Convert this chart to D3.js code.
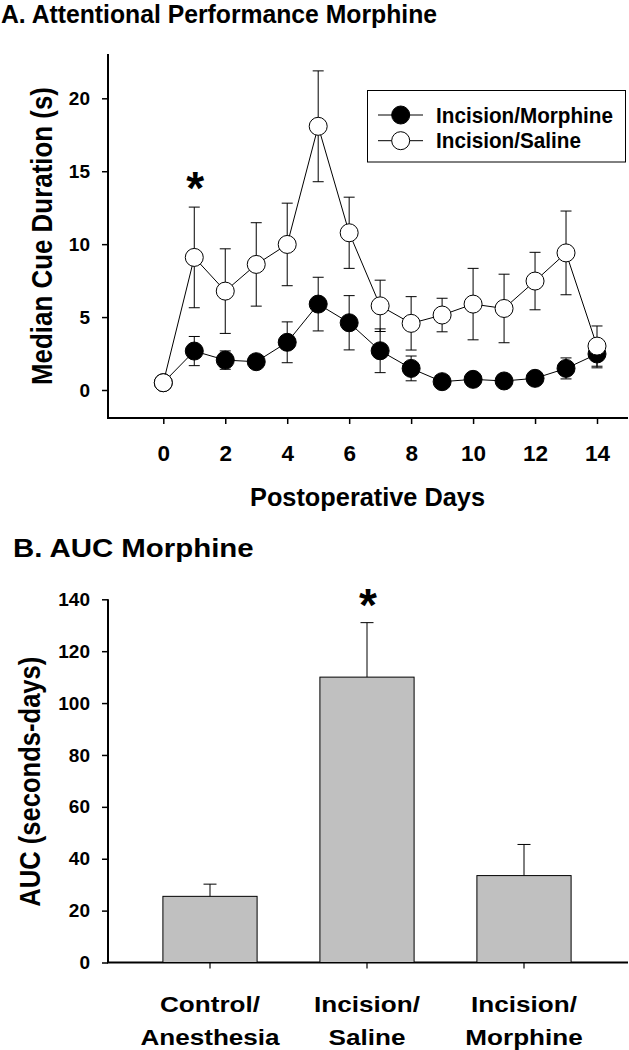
<!DOCTYPE html>
<html><head><meta charset="utf-8">
<script src="https://cdn.jsdelivr.net/npm/d3@7"></script>
<style>
body{margin:0;background:#fff}
svg{display:block}
text{font-family:"Liberation Sans",Arial,sans-serif;font-weight:bold;fill:#000}
</style>
</head><body>
<svg id="c" width="629" height="1050"></svg>
<script>
// ---------- Panel A data ----------
const days = [0,1,2,3,4,5,6,7,8,9,10,11,12,13,14];
const morphineMean = [0.5,2.67,2.05,1.94,3.27,5.89,4.61,2.69,1.48,0.57,0.73,0.62,0.80,1.48,2.47];
const morphineSem  = [0,1.0,0.63,0.4,1.4,1.84,1.86,1.5,0.85,0.2,0.25,0.2,0.3,0.72,0.95];
const salineMean   = [0.5,9.09,6.78,8.61,9.98,18.08,10.78,5.77,4.57,5.14,5.89,5.59,7.47,9.40,3.01];
const salineSem    = [0,3.45,2.9,2.86,2.83,3.8,2.44,1.76,1.83,1.15,2.45,2.35,1.97,2.87,1.38];
const xTicksA = [0,2,4,6,8,10,12,14];
const yTicksA = [0,5,10,15,20];
const seriesNames = ["Incision/Morphine","Incision/Saline"];
const sigDayA = 1;

// ---------- Panel B data ----------
const groups = ["Control/Anesthesia","Incision/Saline","Incision/Morphine"];
const groupLabels = [["Control/","Anesthesia"],["Incision/","Saline"],["Incision/","Morphine"]];
const aucMean = [25.5,110.0,33.5];
const aucSem  = [4.7,21.0,12.0];
const yTicksB = [0,20,40,60,80,100,120,140];
const sigGroupB = "Incision/Saline";

const svg = d3.select("#c");

function label(g, str, x, y, size, opts={}) {
  const sx = opts.sx || 1;
  const rot = opts.rot || 0;
  const t = g.append("text")
    .attr("transform", `translate(${x},${y})` + (rot ? ` rotate(${rot})` : "") + (sx !== 1 ? ` scale(${sx},1)` : ""))
    .attr("text-anchor", opts.anchor || "start")
    .style("font-size", size + "px")
    .text(str);
  if (opts.len) t.attr("textLength", opts.len).attr("lengthAdjust", "spacingAndGlyphs");
  return t;
}

// ================= Panel A =================
const gA = svg.append("g");
label(gA, "A. Attentional Performance Morphine", 1, 23, 26.5, {len: 436});

const xA = d3.scaleLinear().domain([0,14]).range([163.3,597]);
const yA = d3.scaleLinear().domain([0,20]).range([390,98.3]);
const axisLeftX = 108, axisBottomY = 418;

// y axis
const gyA = gA.append("g").attr("transform", `translate(${axisLeftX},0)`)
  .call(d3.axisLeft(yA).tickValues(yTicksA).tickSize(6).tickPadding(12));
gyA.select(".domain").remove();
gyA.selectAll(".tick line").attr("stroke","#000").attr("stroke-width",1.5);
gyA.selectAll(".tick text").style("font-size","19px").attr("fill","#000");
gA.append("line").attr("x1",axisLeftX).attr("x2",axisLeftX).attr("y1",54).attr("y2",axisBottomY+1)
  .attr("stroke","#000").attr("stroke-width",2);

// x axis
const gxA = gA.append("g").attr("transform", `translate(0,${axisBottomY})`)
  .call(d3.axisBottom(xA).tickValues(xTicksA).tickSize(6));
gxA.select(".domain").remove();
gxA.selectAll(".tick line").attr("stroke","#000").attr("stroke-width",1.5);
gxA.selectAll(".tick text").style("font-size","22.5px").attr("y",43).attr("dy",null).attr("fill","#000");
gA.append("line").attr("x1",axisLeftX-1).attr("x2",628).attr("y1",axisBottomY).attr("y2",axisBottomY)
  .attr("stroke","#000").attr("stroke-width",2);

label(gA, "Postoperative Days", 367.5, 505.5, 26.5, {anchor:"middle", len:235});
label(gA, "Median Cue Duration (s)", 52, 236, 29, {anchor:"middle", rot:-90, len:298});

const seriesA = [
  {name: seriesNames[0], mean: morphineMean, sem: morphineSem, fill: "#000"},
  {name: seriesNames[1], mean: salineMean, sem: salineSem, fill: "#fff"}
];

seriesA.forEach(s => {
  const g = gA.append("g");
  const pts = days.map((d,i) => ({d, m: s.mean[i], e: s.sem[i]}));
  pts.filter(p => p.e > 0).forEach(p => {
    const cx = xA(p.d);
    g.append("line").attr("x1",cx).attr("x2",cx).attr("y1",yA(p.m - p.e)).attr("y2",yA(p.m + p.e))
      .attr("stroke","#000").attr("stroke-width",1);
    [p.m - p.e, p.m + p.e].forEach(v => {
      g.append("line").attr("x1",cx-5.5).attr("x2",cx+5.5).attr("y1",yA(v)).attr("y2",yA(v))
        .attr("stroke","#000").attr("stroke-width",1);
    });
  });
  g.append("path").datum(pts)
    .attr("d", d3.line().x(p => xA(p.d)).y(p => yA(p.m)))
    .attr("fill","none").attr("stroke","#000").attr("stroke-width",1);
  g.selectAll("circle").data(pts).join("circle")
    .attr("cx", p => xA(p.d)).attr("cy", p => yA(p.m)).attr("r", 9)
    .attr("fill", s.fill).attr("stroke","#000").attr("stroke-width",1);
});

label(gA, "*", xA(sigDayA) + 1, 204, 46, {anchor:"middle"});

// legend
const lg = gA.append("g");
lg.append("rect").attr("x",367.5).attr("y",90.5).attr("width",258).attr("height",71.5)
  .attr("fill","#fff").attr("stroke","#000").attr("stroke-width",1);
seriesA.forEach((s,i) => {
  const cy = 115 + i*25.7;
  lg.append("line").attr("x1",378).attr("x2",423).attr("y1",cy).attr("y2",cy).attr("stroke","#000").attr("stroke-width",1);
  lg.append("circle").attr("cx",400.7).attr("cy",cy).attr("r",9).attr("fill",s.fill).attr("stroke","#000").attr("stroke-width",1);
  label(lg, s.name, 436, cy + 7.5, 21.5, {len: i === 0 ? 177 : 145});
});

// ================= Panel B =================
const gB = svg.append("g");
label(gB, "B. AUC Morphine", 13, 557, 26.5, {sx: 1.11});

const xB = d3.scaleBand().domain(groups).range([131.5,602.5]).paddingInner(0.4).paddingOuter(0.2);
const yB = d3.scaleLinear().domain([0,140]).range([962.5,599.3]);

const gyB = gB.append("g").attr("transform", `translate(${axisLeftX},0)`)
  .call(d3.axisLeft(yB).tickValues(yTicksB).tickSize(6).tickPadding(12));
gyB.select(".domain").remove();
gyB.selectAll(".tick line").attr("stroke","#000").attr("stroke-width",1.5);
gyB.selectAll(".tick text").style("font-size","19px").attr("fill","#000");
gB.append("line").attr("x1",axisLeftX).attr("x2",axisLeftX).attr("y1",yB(140)).attr("y2",yB(0))
  .attr("stroke","#000").attr("stroke-width",2);

const gxB = gB.append("g").attr("transform", `translate(0,${yB(0)})`)
  .call(d3.axisBottom(xB).tickSize(6).tickFormat(""));
gxB.select(".domain").remove();
gxB.selectAll(".tick line").attr("stroke","#000").attr("stroke-width",1.2);
gB.append("line").attr("x1",axisLeftX-1).attr("x2",628).attr("y1",yB(0)).attr("y2",yB(0))
  .attr("stroke","#000").attr("stroke-width",2);

label(gB, "AUC (seconds-days)", 40, 781.7, 29, {anchor:"middle", rot:-90, len:250});

groups.forEach((gname,i) => {
  const x0 = xB(gname), w = xB.bandwidth(), cx = x0 + w/2;
  gB.append("line").attr("x1",cx).attr("x2",cx).attr("y1",yB(aucMean[i])).attr("y2",yB(aucMean[i]+aucSem[i]))
    .attr("stroke","#000").attr("stroke-width",1);
  gB.append("line").attr("x1",cx-6.5).attr("x2",cx+6.5).attr("y1",yB(aucMean[i]+aucSem[i])).attr("y2",yB(aucMean[i]+aucSem[i]))
    .attr("stroke","#000").attr("stroke-width",1);
  gB.append("rect").attr("x",x0).attr("y",yB(aucMean[i])).attr("width",w).attr("height",yB(0)-yB(aucMean[i]))
    .attr("fill","#c0c0c0").attr("stroke","#000").attr("stroke-width",1);
  label(gB, groupLabels[i][0], cx, 1011.7, 22.5, {anchor:"middle", sx:1.16});
  label(gB, groupLabels[i][1], cx, 1045, 22.5, {anchor:"middle", sx:1.16});
});

label(gB, "*", xB(sigGroupB) + xB.bandwidth()/2 + 1, 621, 46, {anchor:"middle"});
</script>
</body></html>
